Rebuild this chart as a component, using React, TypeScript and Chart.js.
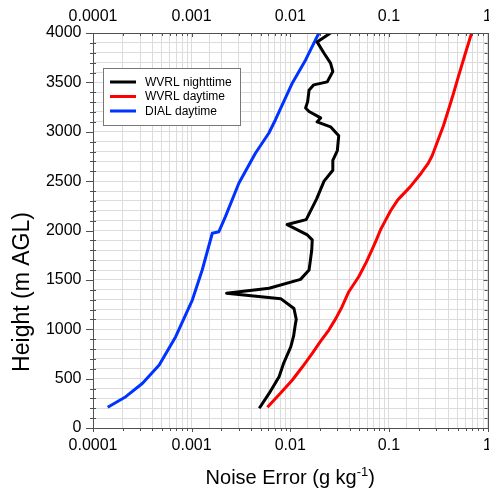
import React, { useEffect, useRef } from "react";
import { Chart, registerables } from "chart.js";

Chart.register(...registerables);

// ---- data ----
const nightHeight = [200, 350, 520, 660, 820, 930, 1060, 1100, 1210, 1310, 1365, 1415, 1505, 1600, 1700, 1800, 1905, 1955, 2060, 2110, 2320, 2500, 2610, 2710, 2810, 2960, 3050, 3100, 3140, 3205, 3240, 3305, 3420, 3475, 3505, 3610, 3695, 3795, 3910, 4000];
const nightError = [0.00485, 0.0061, 0.0077, 0.0086, 0.0101, 0.0108, 0.0113, 0.0115, 0.0109, 0.008, 0.00226, 0.0061, 0.0127, 0.0155, 0.016, 0.0165, 0.0167, 0.0149, 0.0093, 0.0145, 0.0185, 0.022, 0.027, 0.027, 0.03, 0.031, 0.0256, 0.0187, 0.0203, 0.0155, 0.0143, 0.015, 0.0155, 0.0173, 0.0237, 0.027, 0.0256, 0.022, 0.0187, 0.0256];

const dayHeight = [210, 350, 486, 620, 756, 880, 992, 1110, 1228, 1380, 1532, 1680, 1803, 1910, 2005, 2100, 2200, 2310, 2444, 2580, 2680, 2760, 2840, 2917, 3060, 3220, 3390, 3558, 3780, 4000];
const dayError = [0.00586, 0.0079, 0.0105, 0.0133, 0.0167, 0.0203, 0.0246, 0.029, 0.0335, 0.0392, 0.0494, 0.059, 0.0673, 0.075, 0.082, 0.092, 0.104, 0.123, 0.165, 0.212, 0.25, 0.275, 0.295, 0.315, 0.357, 0.401, 0.452, 0.506, 0.59, 0.689];

const dialHeight = [210, 317, 453, 638, 925, 1296, 1600, 1972, 1988, 2140, 2478, 2782, 2985, 3119, 3494, 3727, 4000];
const dialError = [0.000141, 0.000215, 0.000318, 0.000469, 0.000689, 0.001016, 0.00128, 0.00162, 0.00189, 0.0022, 0.00301, 0.00443, 0.00605, 0.00706, 0.0105, 0.0143, 0.0195];

const seriesLabels = ["WVRL nighttime", "WVRL daytime", "DIAL daytime"];
const seriesColors = ["#000000", "#ff0000", "#0033ff"];
const xMin = 0.0001;
const xMax = 1;
const yMin = 0;
const yMax = 4000;
const yMinorStep = 100;
const yMajorStep = 500;
const xTitleMain = "Noise Error (g kg";
const xTitleSup = "-1";
const xTitleEnd = ")";
const yTitle = "Height (m AGL)";

const FONT = "'Liberation Sans', Arial, Helvetica, sans-serif";

function isDecade(v: number) {
  const l = Math.log10(v);
  return Math.abs(l - Math.round(l)) < 1e-9;
}
function decadeLabel(v: number) {
  const e = Math.round(Math.log10(v));
  return e >= 0 ? String(Math.pow(10, e)) : (1 / Math.pow(10, -e)).toFixed(-e);
}

const decorPlugin = {
  id: "decor",
  afterDatasetsDraw(chart: any) {
    const { ctx, chartArea } = chart;
    const { left, right, top, bottom } = chartArea;
    const xs = chart.scales.x;
    const ys = chart.scales.y;
    ctx.save();
    ctx.strokeStyle = "#505050";
    ctx.lineWidth = 1;
    ctx.beginPath();
    ctx.rect(Math.round(left) + 0.5, Math.round(top) + 0.5, Math.round(right) - Math.round(left), Math.round(bottom) - Math.round(top));
    for (let v = yMin; v <= yMax; v += yMinorStep) {
      const p = Math.round(ys.getPixelForValue(v)) + 0.5;
      const major = v % yMajorStep === 0;
      if (major) {
        ctx.moveTo(left - 7, p); ctx.lineTo(left, p);
        ctx.moveTo(right - 4, p); ctx.lineTo(right, p);
      } else {
        ctx.moveTo(left - 3, p); ctx.lineTo(left + 3, p);
        ctx.moveTo(right - 3, p); ctx.lineTo(right, p);
      }
    }
    for (let e = -4; e <= 0; e++) {
      for (let m = 1; m <= 9; m++) {
        const v = m * Math.pow(10, e);
        if (v > xMax * 1.0001) break;
        const p = Math.round(xs.getPixelForValue(v)) + 0.5;
        const len = m === 1 ? 4 : 3;
        ctx.moveTo(p, bottom); ctx.lineTo(p, bottom + len);
        ctx.moveTo(p, top); ctx.lineTo(p, top + len);
      }
    }
    ctx.stroke();
    ctx.restore();
  },
  afterDraw(chart: any) {
    const { ctx, chartArea } = chart;
    ctx.save();
    ctx.fillStyle = "#000";
    // x-axis title with superscript
    const cx = (chartArea.left + chartArea.right) / 2;
    const base = 484;
    ctx.textBaseline = "alphabetic";
    ctx.textAlign = "left";
    const mainFont = `20px ${FONT}`;
    const supFont = `13px ${FONT}`;
    ctx.font = mainFont;
    const w1 = ctx.measureText(xTitleMain).width;
    const w3 = ctx.measureText(xTitleEnd).width;
    ctx.font = supFont;
    const w2 = ctx.measureText(xTitleSup).width;
    let x = cx - (w1 + w2 + w3) / 2;
    ctx.font = mainFont;
    ctx.fillText(xTitleMain, x, base);
    x += w1;
    ctx.font = supFont;
    ctx.fillText(xTitleSup, x, base - 8);
    x += w2;
    ctx.font = mainFont;
    ctx.fillText(xTitleEnd, x, base);

    // y-axis title
    ctx.save();
    ctx.translate(23, 292);
    ctx.rotate(-Math.PI / 2);
    ctx.font = `23px ${FONT}`;
    ctx.textAlign = "center";
    ctx.textBaseline = "middle";
    ctx.fillText(yTitle, 0, 0);
    ctx.restore();

    // legend box
    const bx = 103.5, by = 68.5, bw = 137, bh = 57;
    ctx.fillStyle = "#ffffff";
    ctx.fillRect(bx, by, bw, bh);
    ctx.strokeStyle = "#777777";
    ctx.lineWidth = 1;
    ctx.strokeRect(bx, by, bw, bh);
    ctx.font = `12px ${FONT}`;
    ctx.textBaseline = "middle";
    ctx.textAlign = "left";
    const rows = [82, 96.5, 111];
    seriesLabels.forEach((lab, i) => {
      ctx.strokeStyle = seriesColors[i];
      ctx.lineWidth = 3;
      ctx.beginPath();
      ctx.moveTo(110, rows[i]);
      ctx.lineTo(136, rows[i]);
      ctx.stroke();
      ctx.fillStyle = "#000";
      ctx.fillText(lab, 145, rows[i] + 0.5);
    });
    ctx.restore();
  },
};

export default function App() {
  const ref = useRef<HTMLCanvasElement>(null);
  useEffect(() => {
    const canvas = ref.current;
    if (!canvas) return;
    const pts = (xs: number[], ys: number[]) => xs.map((v, i) => ({ x: v, y: ys[i] }));
    const mk = (i: number, data: any[]) => ({
      label: seriesLabels[i],
      data,
      showLine: true,
      borderColor: seriesColors[i],
      backgroundColor: seriesColors[i],
      borderWidth: 3,
      borderJoinStyle: "round",
      pointRadius: 0,
      tension: 0,
      fill: false,
      xAxisID: "x",
      yAxisID: "y",
    });
    const tickFont = { family: FONT, size: 16 };
    const chart = new Chart(canvas, {
      type: "scatter",
      data: {
        datasets: [
          mk(0, pts(nightError, nightHeight)),
          mk(1, pts(dayError, dayHeight)),
          mk(2, pts(dialError, dialHeight)),
        ],
      },
      options: {
        responsive: false,
        animation: false,
        events: [],
        layout: { padding: { left: 0, right: 11, top: 0, bottom: 0 } },
        plugins: { legend: { display: false }, tooltip: { enabled: false }, title: { display: false } },
        scales: {
          x: {
            type: "logarithmic",
            position: "bottom",
            min: xMin,
            max: xMax,
            border: { display: false },
            grid: { color: "#dcdcdc", lineWidth: 1, drawTicks: false },
            ticks: {
              autoSkip: false,
              maxRotation: 0,
              minRotation: 0,
              padding: 8,
              color: "#000",
              font: tickFont,
              callback: (v: any) => (isDecade(Number(v)) ? decadeLabel(Number(v)) : ""),
            },
            afterFit: (s: any) => { s.height = 63; },
          },
          x2: {
            type: "logarithmic",
            position: "top",
            min: xMin,
            max: xMax,
            border: { display: false },
            grid: { display: false, drawTicks: false },
            ticks: {
              autoSkip: false,
              maxRotation: 0,
              minRotation: 0,
              padding: 7,
              color: "#000",
              font: tickFont,
              callback: (v: any) => (isDecade(Number(v)) ? decadeLabel(Number(v)) : ""),
            },
            afterFit: (s: any) => { s.height = 33; },
          },
          y: {
            type: "linear",
            position: "left",
            min: yMin,
            max: yMax,
            border: { display: false },
            grid: { color: "#dcdcdc", lineWidth: 1, drawTicks: false },
            ticks: {
              stepSize: yMinorStep,
              autoSkip: false,
              padding: 11.5,
              color: "#000",
              font: tickFont,
              callback: (v: any) => (Number(v) % yMajorStep === 0 ? String(v) : ""),
            },
            afterFit: (s: any) => { s.width = 93; },
          },
        },
      } as any,
      plugins: [decorPlugin],
    });
    return () => chart.destroy();
  }, []);
  return (
    <div style={{ position: "fixed", left: 0, top: 0, width: 489, height: 491, overflow: "hidden", background: "#fff" }}>
      <canvas ref={ref} width={500} height={491} style={{ display: "block" }} />
    </div>
  );
}
